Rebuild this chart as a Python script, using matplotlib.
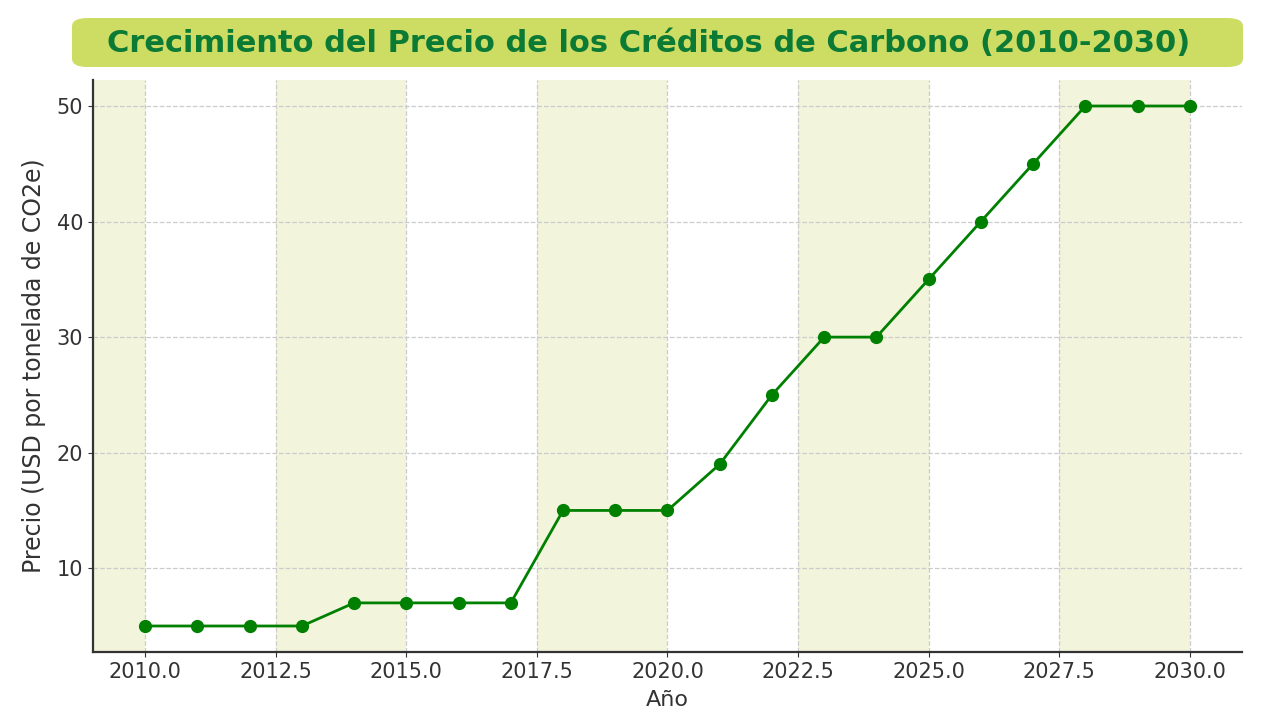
import numpy as np
import matplotlib
matplotlib.use("Agg")
import matplotlib.pyplot as plt
from matplotlib.patches import FancyBboxPatch

# datos
years = [2010, 2011, 2012, 2013, 2014, 2015, 2016, 2017, 2018, 2019, 2020,
         2021, 2022, 2023, 2024, 2025, 2026, 2027, 2028, 2029, 2030]
prices = [5, 5, 5, 5, 7, 7, 7, 7, 15, 15, 15,
          19, 25, 30, 30, 35, 40, 45, 50, 50, 50]
band_starts = [2007.5, 2012.5, 2017.5, 2022.5, 2027.5]
band_width = 2.5

title = 'Crecimiento del Precio de los Créditos de Carbono (2010-2030)'

fig = plt.figure(figsize=(12.84, 7.11), dpi=100)
ax = fig.add_axes([93/1284, 1 - 652/711, (1242-93)/1284, (652-80)/711])

ax.plot(years, prices, color='#008000', lw=2, marker='o', ms=8.5, zorder=3)

for b in band_starts:
    ax.axvspan(b, b + band_width, color='#f2f4dc', zorder=0, lw=0)

ax.set_xlim(2009, 2031)
ax.grid(True, ls='--', color='#cccccc', lw=0.9)
ax.set_axisbelow(True)
ax.spines['top'].set_visible(False)
ax.spines['right'].set_visible(False)
ax.spines['left'].set_linewidth(1.6)
ax.spines['bottom'].set_linewidth(1.6)
ax.spines['left'].set_color('#333333')
ax.spines['bottom'].set_color('#333333')
ax.tick_params(labelsize=15, colors='#333333')
ax.set_xticks([2010, 2012.5, 2015, 2017.5, 2020, 2022.5, 2025, 2027.5, 2030])
ax.set_xticklabels(['2010.0', '2012.5', '2015.0', '2017.5', '2020.0',
                    '2022.5', '2025.0', '2027.5', '2030.0'])
ax.set_xlabel('Año', fontsize=16, color='#333333', labelpad=6)
ax.set_ylabel('Precio (USD por tonelada de CO2e)', fontsize=17, color='#333333', labelpad=8)

# titulo en caja redondeada
box = FancyBboxPatch((72/1284, 1 - 67/711), (1243-72)/1284, 49/711,
                     boxstyle='round,pad=0,rounding_size=0.012',
                     transform=fig.transFigure, facecolor='#cddc63',
                     edgecolor='none')
fig.patches.append(box)
fig.text(0.5 * (104 + 1193) / 1284, 1 - 43/711, title, ha='center', va='center',
         fontsize=22, fontweight='bold', color='#0b7a35', family='DejaVu Sans')

fig.savefig('out.png', dpi=100)
